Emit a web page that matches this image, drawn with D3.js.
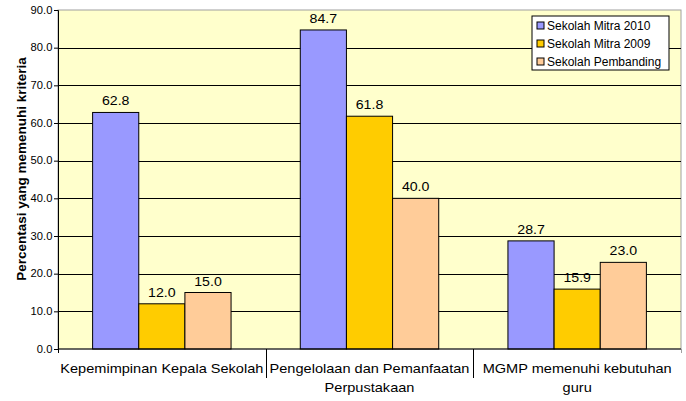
<!DOCTYPE html>
<html>
<head>
<meta charset="utf-8">
<script src="https://cdn.jsdelivr.net/npm/d3@7"></script>
<style>
  body { margin: 0; background: #fff; }
  svg { display: block; font-family: "Liberation Sans", Arial, sans-serif; }
</style>
</head>
<body>
<div id="chart"></div>
<script>
const categories = [
  ['Kepemimpinan Kepala Sekolah'],
  ['Pengelolaan dan Pemanfaatan', 'Perpustakaan'],
  ['MGMP memenuhi kebutuhan', 'guru']
];
const seriesNames = ['Sekolah Mitra 2010', 'Sekolah Mitra 2009', 'Sekolah Pembanding'];
const mitra2010 = [62.8, 84.7, 28.7];
const mitra2009 = [12.0, 61.8, 15.9];
const pembanding = [15.0, 40.0, 23.0];
const yTicks = [0, 10, 20, 30, 40, 50, 60, 70, 80, 90];
const colors = ['#9999FF', '#FFCC00', '#FFCC99'];

const W = 686, H = 401;
const m = { left: 58, right: 5, top: 10, bottom: 52 };
const iw = W - m.left - m.right, ih = H - m.top - m.bottom;

const svg = d3.select('#chart').append('svg').attr('width', W).attr('height', H);
const g = svg.append('g').attr('transform', `translate(${m.left},${m.top})`);

const series = [mitra2010, mitra2009, pembanding];
const x0 = d3.scaleBand().domain(d3.range(categories.length)).range([0, iw]);
const bw = x0.bandwidth() / 4.5;
const x1 = d3.scaleBand().domain(d3.range(series.length))
  .range([bw * 0.75, bw * 3.75]);
const y = d3.scaleLinear().domain([0, 90]).range([ih, 0]);

// plot area
g.append('rect').attr('width', iw).attr('height', ih)
  .attr('fill', '#FFFFCC').attr('stroke', '#a0a0a0').attr('stroke-width', 1);

// grid
g.selectAll('.grid').data(yTicks.filter(d => d > 0 && d < 90)).enter().append('line')
  .attr('x1', 0).attr('x2', iw)
  .attr('y1', d => Math.round(y(d)) + 0.5).attr('y2', d => Math.round(y(d)) + 0.5)
  .attr('stroke', '#000').attr('stroke-width', 1);

// bars
const groups = g.selectAll('.grp').data(categories).enter().append('g')
  .attr('transform', (d, i) => `translate(${x0(i)},0)`);
groups.each(function(c, ci) {
  const sel = d3.select(this);
  series.forEach((s, si) => {
    sel.append('rect')
      .attr('x', x1(si)).attr('width', x1.bandwidth())
      .attr('y', y(s[ci])).attr('height', ih - y(s[ci]))
      .attr('fill', colors[si]).attr('stroke', '#000').attr('stroke-width', 1);
    sel.append('text')
      .attr('transform', `translate(${x1(si) + x1.bandwidth() / 2},${y(s[ci]) - 7}) scale(1.18,1)`)
      .attr('text-anchor', 'middle').attr('font-size', 12).attr('fill', '#000')
      .text(s[ci].toFixed(1));
  });
});

// y axis
const yAxis = g.append('g').call(d3.axisLeft(y).tickValues(yTicks).tickSize(4).tickFormat(d3.format('.1f')));
yAxis.select('.domain').attr('stroke', '#000');
yAxis.selectAll('.tick line').attr('stroke', '#000');
yAxis.selectAll('text').attr('font-size', 10).attr('x', -5)
  .attr('transform', 'scale(1.12,1)')
  .attr('font-family', '"Liberation Sans", Arial, sans-serif').attr('fill', '#000');

// x axis
const xg = g.append('g').attr('transform', `translate(0,${ih})`);
xg.append('line').attr('x1', 0).attr('x2', iw).attr('stroke', '#000');
xg.selectAll('.xt').data(d3.range(categories.length + 1)).enter().append('line')
  .attr('x1', d => Math.round(d * x0.step()) + 0.5).attr('x2', d => Math.round(d * x0.step()) + 0.5)
  .attr('y1', 0).attr('y2', d => (d === 0 || d === categories.length) ? 4 : 29)
  .attr('stroke', d => d === categories.length ? '#a0a0a0' : '#000');
categories.forEach((c, i) => {
  const t = xg.append('text').attr('text-anchor', 'middle')
    .attr('font-size', 13).attr('fill', '#000')
    .attr('transform', `translate(${x0(i) + x0.bandwidth() / 2},24) scale(1.12,1)`);
  c.forEach((line, li) => t.append('tspan').attr('x', 0).attr('dy', li === 0 ? 0 : 19).text(line));
});

// y label
svg.append('text')
  .attr('transform', `translate(26,169) rotate(-90)`)
  .attr('text-anchor', 'middle').attr('font-size', 13.5).attr('font-weight', 'bold')
  .text('Percentasi yang memenuhi kriteria');

// legend
const lg = svg.append('g').attr('transform', 'translate(532,16)');
lg.append('rect').attr('width', 137).attr('height', 54)
  .attr('fill', '#fff').attr('stroke', '#000');
seriesNames.forEach((n, i) => {
  lg.append('rect').attr('x', 5).attr('y', 6 + i * 18).attr('width', 7).attr('height', 7)
    .attr('fill', colors[i]).attr('stroke', '#000');
  lg.append('text').attr('x', 15).attr('y', 14 + i * 18)
    .attr('font-size', 12).text(n);
});
</script>
</body>
</html>
